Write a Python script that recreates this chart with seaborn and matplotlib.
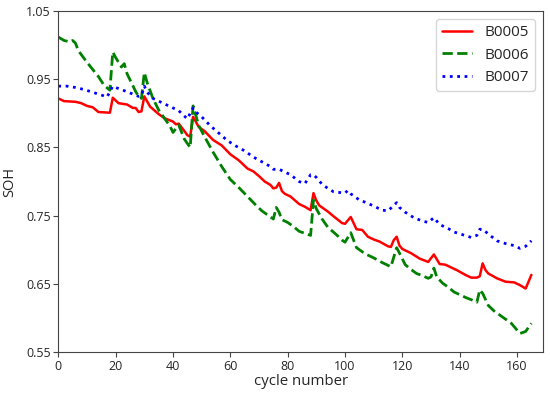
import matplotlib
matplotlib.use("Agg")
import matplotlib.pyplot as plt
import pandas as pd
import seaborn as sns

# cycle numbers and SOH values
b5_cycle = [0, 2, 6, 8, 10, 12, 14, 18, 19, 21, 24, 26, 27, 28, 29, 30, 32, 35, 37, 40, 41, 42,
            44, 45, 46, 47, 49, 51, 54, 57, 60, 63, 66, 68, 70, 72, 74, 75, 76, 77, 78, 79, 81,
            84, 86, 88, 89, 90, 91, 94, 96, 99, 100, 102, 104, 106, 108, 110, 112, 115, 116, 117,
            118, 119, 120, 123, 126, 129, 131, 133, 135, 137, 139, 142, 144, 146, 147, 148, 149,
            150, 153, 156, 159, 161, 163, 165]
b5_soh = [0.922, 0.918, 0.917, 0.915, 0.911, 0.909, 0.902, 0.901, 0.923, 0.915, 0.913, 0.908,
          0.908, 0.902, 0.903, 0.925, 0.910, 0.899, 0.893, 0.888, 0.884, 0.885, 0.874, 0.868,
          0.866, 0.895, 0.880, 0.874, 0.861, 0.853, 0.840, 0.831, 0.819, 0.815, 0.808, 0.800,
          0.795, 0.790, 0.791, 0.798, 0.786, 0.782, 0.778, 0.767, 0.763, 0.758, 0.783, 0.772,
          0.765, 0.756, 0.749, 0.739, 0.738, 0.748, 0.730, 0.729, 0.719, 0.715, 0.712, 0.705,
          0.704, 0.714, 0.719, 0.706, 0.701, 0.695, 0.687, 0.682, 0.693, 0.679, 0.678, 0.674,
          0.670, 0.663, 0.659, 0.659, 0.661, 0.680, 0.670, 0.665, 0.658, 0.653, 0.652, 0.648,
          0.643, 0.663]

b6_cycle = [0, 2, 4, 5, 6, 7, 10, 14, 16, 18, 19, 20, 21, 22, 23, 24, 27, 28, 29, 30, 31, 33,
            35, 37, 39, 40, 42, 44, 46, 47, 49, 51, 54, 57, 60, 63, 66, 69, 71, 73, 75, 76, 77,
            78, 80, 82, 84, 86, 88, 89, 90, 92, 94, 97, 99, 100, 102, 104, 107, 110, 113, 116,
            118, 119, 121, 123, 125, 127, 129, 130, 131, 132, 134, 136, 138, 140, 142, 145, 146,
            147, 148, 150, 152, 155, 158, 161, 163, 165]
b6_soh = [1.012, 1.007, 1.005, 1.007, 1.003, 0.992, 0.975, 0.954, 0.941, 0.934, 0.990, 0.982,
          0.975, 0.968, 0.973, 0.958, 0.932, 0.925, 0.922, 0.960, 0.945, 0.922, 0.905, 0.893,
          0.881, 0.872, 0.883, 0.862, 0.850, 0.911, 0.882, 0.866, 0.843, 0.822, 0.803, 0.791,
          0.778, 0.765, 0.757, 0.751, 0.745, 0.762, 0.755, 0.744, 0.740, 0.734, 0.727, 0.724,
          0.721, 0.773, 0.760, 0.745, 0.733, 0.722, 0.714, 0.711, 0.725, 0.703, 0.694, 0.688,
          0.681, 0.675, 0.703, 0.695, 0.678, 0.671, 0.665, 0.662, 0.658, 0.660, 0.673, 0.660,
          0.651, 0.645, 0.638, 0.634, 0.630, 0.625, 0.623, 0.641, 0.636, 0.618, 0.610, 0.601,
          0.592, 0.577, 0.580, 0.592]

b7_cycle = [0, 3, 6, 9, 12, 15, 17, 18, 19, 20, 22, 25, 28, 29, 30, 31, 33, 36, 39, 42, 44, 45,
            47, 48, 50, 53, 56, 59, 62, 65, 68, 71, 74, 75, 77, 79, 81, 84, 86, 88, 89, 90, 92,
            94, 96, 98, 100, 101, 102, 105, 108, 111, 113, 115, 117, 118, 119, 121, 124, 127,
            129, 131, 133, 136, 138, 141, 144, 146, 147, 148, 150, 153, 156, 159, 161, 163, 165]
b7_soh = [0.940, 0.940, 0.938, 0.935, 0.931, 0.927, 0.924, 0.932, 0.940, 0.938, 0.935, 0.930,
          0.925, 0.926, 0.940, 0.931, 0.922, 0.916, 0.910, 0.904, 0.896, 0.892, 0.908, 0.902,
          0.895, 0.882, 0.871, 0.860, 0.852, 0.845, 0.836, 0.829, 0.822, 0.818, 0.818, 0.814,
          0.810, 0.800, 0.797, 0.810, 0.810, 0.806, 0.796, 0.790, 0.785, 0.784, 0.783, 0.787,
          0.782, 0.773, 0.768, 0.762, 0.758, 0.757, 0.765, 0.769, 0.762, 0.755, 0.747, 0.742,
          0.740, 0.747, 0.737, 0.731, 0.726, 0.722, 0.718, 0.721, 0.730, 0.730, 0.723, 0.713,
          0.709, 0.706, 0.702, 0.705, 0.713]

sns.set_style("ticks")
plt.rcParams['font.family'] = ['Open Sans', 'DejaVu Sans']

fig, ax = plt.subplots(figsize=(5.5, 3.99), dpi=100)
fig.subplots_adjust(left=0.106, right=0.987, bottom=0.118, top=0.972)

df5 = pd.DataFrame({'cycle': b5_cycle, 'soh': b5_soh})
df6 = pd.DataFrame({'cycle': b6_cycle, 'soh': b6_soh})
df7 = pd.DataFrame({'cycle': b7_cycle, 'soh': b7_soh})

sns.lineplot(x='cycle', y='soh', data=df5, ax=ax, color='red', linewidth=1.8, label='B0005')
sns.lineplot(x='cycle', y='soh', data=df6, ax=ax, color='green', linewidth=2.0,
             linestyle='--', label='B0006')
sns.lineplot(x='cycle', y='soh', data=df7, ax=ax, color='blue', linewidth=2.0,
             linestyle=':', label='B0007')

ax.set_xlim(0, 169)
ax.set_ylim(0.55, 1.05)
ax.set_xticks(range(0, 161, 20))
ax.set_yticks([0.55, 0.65, 0.75, 0.85, 0.95, 1.05])
ax.set_yticklabels(['0.55', '0.65', '0.75', '0.85', '0.95', '1.05'])
ax.tick_params(labelsize=9, length=3.5, pad=2, color='#444444')
ax.set_xlabel("cycle number", fontsize=10.8, labelpad=1)
ax.set_ylabel("SOH", fontsize=10.5, labelpad=6)
for sp in ax.spines.values():
    sp.set_color('#444444')

ax.legend(loc='upper right', fontsize=11, handlelength=2.0, borderaxespad=0.5)

fig.savefig("out.png", dpi=100)
